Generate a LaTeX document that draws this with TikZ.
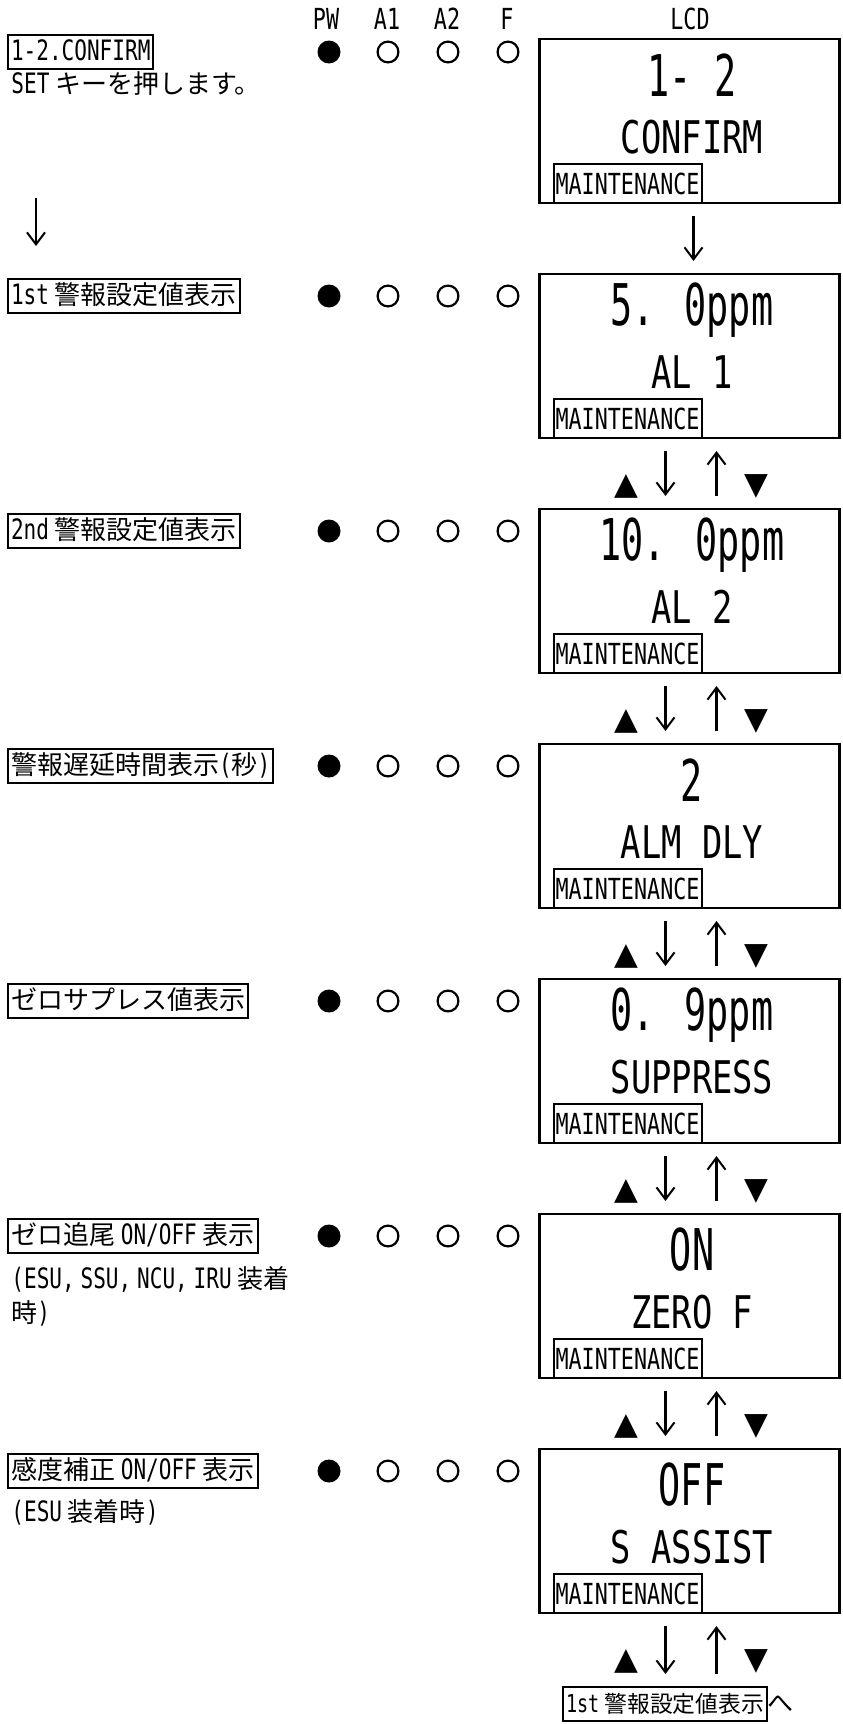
\documentclass[tikz,border=0pt]{standalone}
\usepackage{fontspec}
\setmainfont{Noto Sans CJK JP}
\newfontfamily\lcdn[FakeStretch=0.75]{DejaVu Sans Mono}
\newfontfamily\lcdc[FakeStretch=0.64]{DejaVu Sans Mono}
\newfontfamily\lcdl[FakeStretch=0.75, Scale=1.08]{DejaVu Sans Mono}
\newfontfamily\symf{DejaVu Sans}
\usetikzlibrary{positioning,arrows.meta}
\newcommand{\asc}[1]{{\lcdl #1}}

\tikzset{
  hdr/.style={font=\lcdn\fontsize{14.5}{16}\selectfont, inner sep=0pt},
  ledon/.style={circle, fill=black, minimum size=11.5pt, inner sep=0pt},
  ledoff/.style={circle, draw, line width=1.1pt, minimum size=10.4pt, inner sep=0pt},
  lcdbox/.style={draw, line width=1.2pt, minimum width=150pt, minimum height=82pt, inner sep=0pt, outer sep=0pt},
  lcdval/.style={font=\lcdc\fontsize{28.75}{30}\selectfont, inner sep=0pt},
  lcdname/.style={font=\lcdn\fontsize{22.5}{24}\selectfont, inner sep=0pt},
  maint/.style={draw, line width=1pt, anchor=south west, outer sep=0pt, inner sep=1pt, minimum height=19.5pt, font=\lcdn\fontsize{14.5}{15}\selectfont},
  labelbox/.style={draw, line width=1pt, anchor=west, outer sep=0pt, inner sep=1.5pt, text height=11pt, text depth=3pt, font=\fontsize{13}{15}\selectfont},
  note/.style={anchor=west, inner sep=1.5pt, font=\fontsize{13}{15}\selectfont},
  arr/.style={line width=1.3pt, shorten <=6.5pt, shorten >=6.5pt, -{Straight Barb[length=6pt, width=9pt, line width=1pt]}},
  tri/.style={font=\symf\fontsize{15.5}{16}\selectfont, inner sep=0pt}
}

\begin{document}
\begin{tikzpicture}[x=0.5pt,y=-0.5pt]
    \useasboundingbox (0,0) rectangle (842,1724);

    % Header
    \node[hdr] (hpw) at (326,19) {PW};
    \node[hdr] (ha1) at (387,19) {A1};
    \node[hdr] (ha2) at (447,19) {A2};
    \node[hdr] (hf) at (507,19) {F};
    \node[hdr] (hlcd) at (690,19) {LCD};

    % LED rows and LCD screens
    \foreach \i/\valtxt/\nametxt in {1/{1- 2}/CONFIRM, 2/{5. 0ppm}/{AL 1}, 3/{10. 0ppm}/{AL 2}, 4/2/{ALM DLY}, 5/{0. 9ppm}/SUPPRESS, 6/ON/{ZERO F}, 7/OFF/{S ASSIST}}{
        \pgfmathsetmacro{\ry}{61+235*(\i-1)}
        \pgfmathsetmacro{\ly}{\i==1 ? 52 : \ry}
        \node[ledon] (pw\i) at (329,\ly) {};
        \node[ledoff] (aa\i) at (388,\ly) {};
        \node[ledoff] (ab\i) at (448,\ly) {};
        \node[ledoff] (ff\i) at (508,\ly) {};
        \node[lcdbox] (lcd\i) at (689.5,\ry+60) {};
        \node[lcdval] (val\i) at (692,\ry+14) {\valtxt};
        \node[lcdname] (nm\i) at (692,\ry+76) {\nametxt};
        \node[maint] (mt\i) at ([xshift=7pt]lcd\i.south west) {MAINTENANCE};
    }

    % Left side texts
    \node[labelbox] (t1) at (8,52) {\asc{1-2.CONFIRM}};
    \node[note] (s1) at (8,84) {\asc{SET} キーを押します。};
    \node[labelbox] (t2) at (8,296) {\asc{1st} 警報設定値表示};
    \node[labelbox] (t3) at (8,531) {\asc{2nd} 警報設定値表示};
    \node[labelbox] (t4) at (8,766) {警報遅延時間表示\asc{(}秒\asc{)}};
    \node[labelbox] (t5) at (8,1001) {ゼロサプレス値表示};
    \node[labelbox] (t6) at (8,1236) {ゼロ追尾 \asc{ON/OFF} 表示};
    \node[note] (s6) at (8,1279) {\asc{(ESU,} \asc{SSU,} \asc{NCU,} \asc{IRU} 装着};
    \node[note] (u6) at (8,1313) {時\asc{)}};
    \node[labelbox] (t7) at (8,1471) {感度補正 \asc{ON/OFF} 表示};
    \node[note] (s7) at (8,1512) {\asc{(ESU} 装着時\asc{)}};

    % Left arrow
    \coordinate (la) at (36,198);
    \coordinate (lb) at (36,246);
    \draw[arr, shorten <=0pt, shorten >=0pt] (la) -- (lb);

    % Back label
    \node[labelbox, font=\fontsize{11.4}{14}\selectfont] (back) at (563,1704) {\asc{1st} 警報設定値表示};
    \node[note, inner sep=0pt, right=0pt of back] (he) {へ};

    % Arrows between screens
    \draw[arr] ([xshift=2pt]lcd1.south) -- ([xshift=2pt]lcd2.north);
    \foreach \i in {2,...,6}{
        \pgfmathtruncatemacro{\j}{\i+1}
        \draw[arr] ([xshift=-12pt]lcd\i.south) -- ([xshift=-12pt]lcd\j.north);
        \draw[arr] ([xshift=13.5pt]lcd\j.north) -- ([xshift=13.5pt]lcd\i.south);
        \node[tri] (up\i) at ([xshift=-31.5pt,yshift=-24pt]lcd\i.south) {▲};
        \node[tri] (dn\i) at ([xshift=33.5pt,yshift=-24pt]lcd\i.south) {▼};
    }
    \coordinate (d7) at ([xshift=-12pt]lcd7.south);
    \coordinate (u7) at ([xshift=13.5pt]lcd7.south);
    \draw[arr] (d7) -- (d7 |- back.north);
    \draw[arr] (u7 |- back.north) -- (u7);
    \node[tri] (up7) at ([xshift=-31.5pt,yshift=-24pt]lcd7.south) {▲};
    \node[tri] (dn7) at ([xshift=33.5pt,yshift=-24pt]lcd7.south) {▼};

\end{tikzpicture}
\end{document}
